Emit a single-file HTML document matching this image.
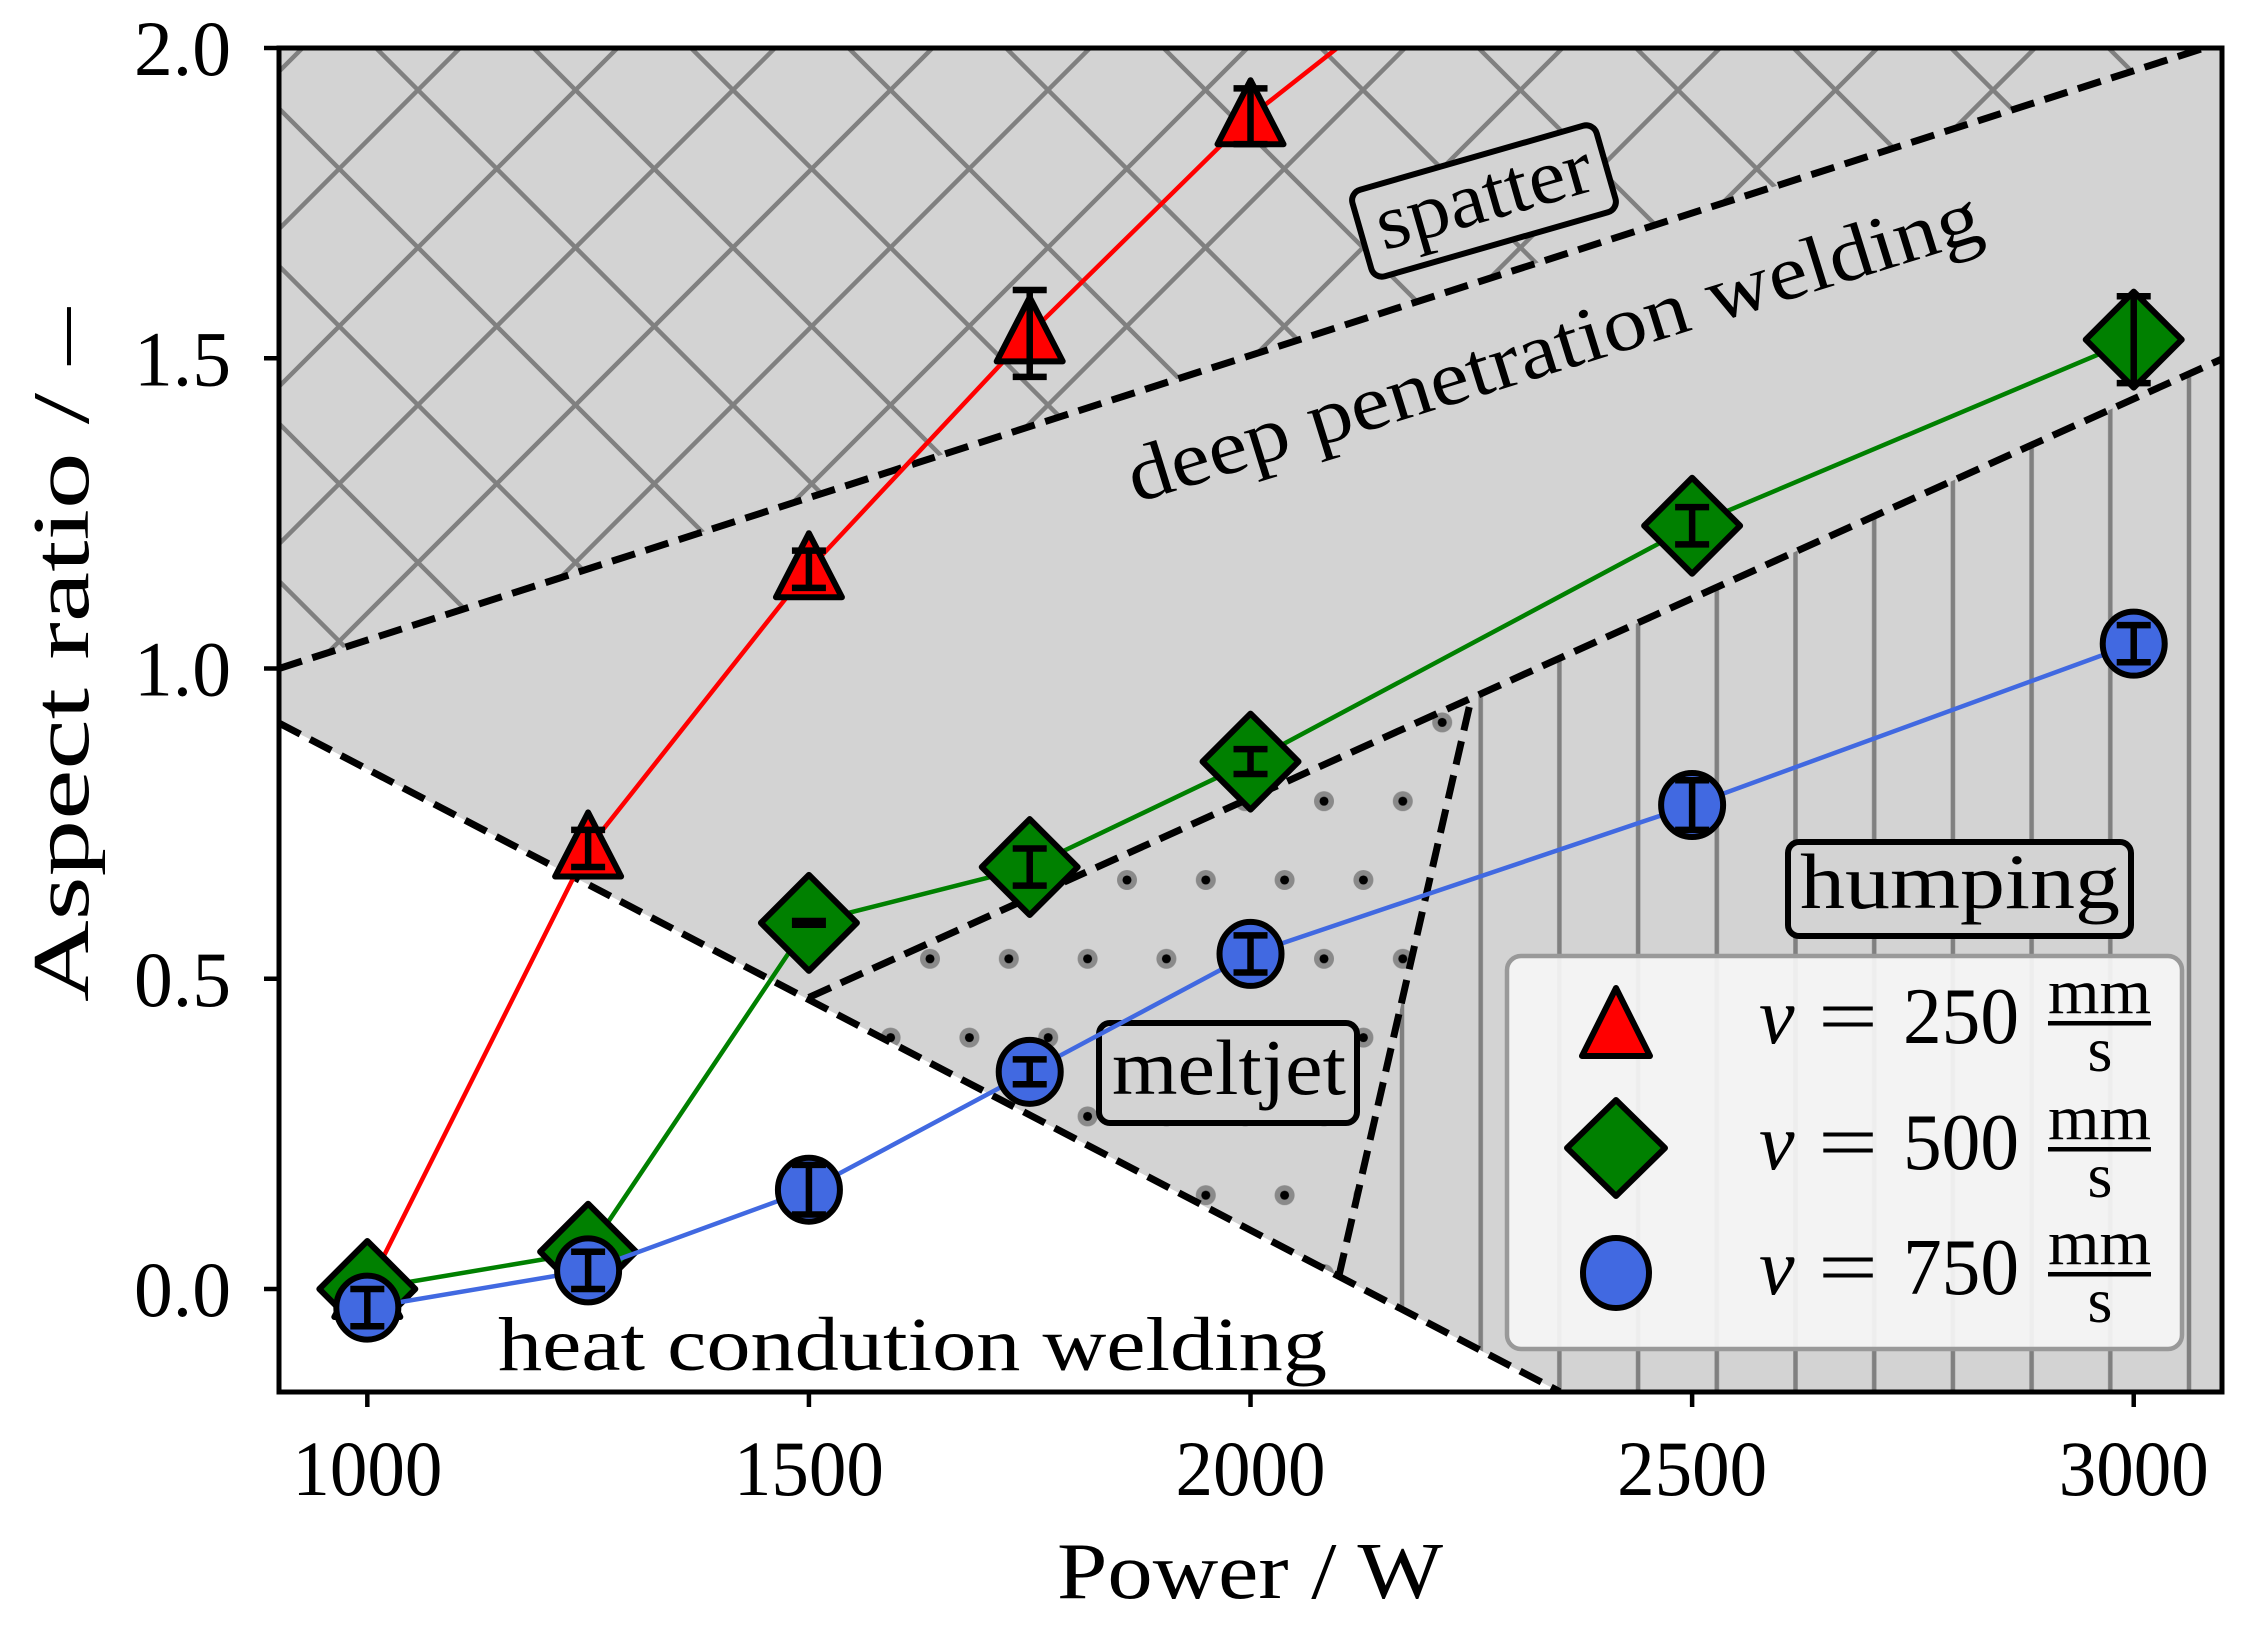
<!DOCTYPE html>
<html><head><meta charset="utf-8"><style>html,body{margin:0;padding:0;background:#fff}svg{display:block}</style></head>
<body>
<svg id="s" xmlns="http://www.w3.org/2000/svg" width="2244" height="1640" viewBox="0 0 2244 1640" font-family="Liberation Serif, serif">
<defs>
<clipPath id="pc"><rect x="279" y="48" width="1943" height="1344"/></clipPath>
<pattern id="xh" patternUnits="userSpaceOnUse" width="157.5" height="157.5" x="1993" y="90">
<rect width="157.5" height="157.5" fill="#d3d3d3"/>
<path d="M-10,-10 L167.5,167.5 M-10,167.5 L167.5,-10 M-88.75,68.75 L68.75,-88.75 M88.75,246.25 L246.25,88.75 M68.75,246.25 L-88.75,88.75 M246.25,68.75 L88.75,-88.75" stroke="#808080" stroke-width="4.5"/>
</pattern>
<pattern id="dt" patternUnits="userSpaceOnUse" width="78.8" height="157.6" x="1127" y="880">
<rect width="78.8" height="157.6" fill="#d3d3d3"/>
<circle cx="0" cy="0" r="10" fill="#8a8a8a"/><circle cx="0" cy="0" r="4.5" fill="#000"/>
<circle cx="78.8" cy="0" r="10" fill="#8a8a8a"/><circle cx="78.8" cy="0" r="4.5" fill="#000"/>
<circle cx="0" cy="157.6" r="10" fill="#8a8a8a"/><circle cx="0" cy="157.6" r="4.5" fill="#000"/>
<circle cx="78.8" cy="157.6" r="10" fill="#8a8a8a"/><circle cx="78.8" cy="157.6" r="4.5" fill="#000"/>
<circle cx="39.4" cy="78.8" r="10" fill="#8a8a8a"/><circle cx="39.4" cy="78.8" r="4.5" fill="#000"/>
</pattern>
<pattern id="vh" patternUnits="userSpaceOnUse" width="78.7" height="100" x="1402" y="0">
<rect width="78.7" height="100" fill="#d3d3d3"/>
<rect x="-2.25" width="4.5" height="100" fill="#808080"/><rect x="76.45" width="4.5" height="100" fill="#808080"/>
</pattern>
</defs>
<g id="plot" clip-path="url(#pc)"></g>
<g id="over"></g>
</svg>
<script>
const NS="http://www.w3.org/2000/svg";
const X=w=>279+(w-900)*0.8832, Y=v=>1289-v*620.5;
const plot=document.getElementById('plot'), over=document.getElementById('over');
function el(p,tag,a,txt){const e=document.createElementNS(NS,tag);for(const k in a)e.setAttribute(k,a[k]);if(txt!==undefined)e.textContent=txt;p.appendChild(e);return e;}
function pts(arr){return arr.map(p=>X(p[0]).toFixed(1)+','+Y(p[1]).toFixed(1)).join(' ');}
el(plot,'rect',{x:279,y:48,width:1943,height:1344,fill:'#d3d3d3'});
const hl=w=>0.912-(w-900)*0.000743;
el(plot,'polygon',{points:pts([[900,hl(900)],[2350,hl(2350)],[900,hl(2350)]]),fill:'#fff'});
const sl=w=>1.0+(w-900)/2180;
el(plot,'polygon',{points:pts([[900,sl(900)],[3100,sl(3100)],[3100,2.1],[900,2.1]]),fill:'url(#xh)'});
const ml=w=>0.47+(w-1500)*0.000643;
el(plot,'polygon',{points:pts([[2250,ml(2250)],[3100,ml(3100)],[3100,-0.2],[2350,hl(2350)],[2100,hl(2100)]]),fill:'url(#vh)'});
el(plot,'polygon',{points:pts([[1500,hl(1500)],[2250,ml(2250)],[2100,hl(2100)]]),fill:'url(#dt)'});
const dash={stroke:'#000','stroke-width':7,'stroke-dasharray':'24,11',fill:'none'};
el(plot,'polyline',Object.assign({points:pts([[900,sl(900)],[3100,sl(3100)]])},dash));
el(plot,'polyline',Object.assign({points:pts([[900,hl(900)],[2350,hl(2350)]])},dash));
el(plot,'polyline',Object.assign({points:pts([[1500,ml(1500)],[3100,ml(3100)]])},dash));
el(plot,'polyline',Object.assign({points:pts([[2100,hl(2100)],[2250,ml(2250)]])},dash));
function txt(p,x,y,s,size,len,rot,extra){const a=Object.assign({x:x,y:y,'font-size':size,fill:'#000'},extra||{});if(len){a.textLength=len;a.lengthAdjust='spacingAndGlyphs';}if(rot)a.transform=`rotate(${rot} ${x} ${y})`;return el(p,'text',a,s);}
txt(plot,498,1370,'heat condution welding',76,829);
txt(plot,1136,503,'deep penetration welding',78,890,-17.3);
const sp=el(plot,'g',{transform:'translate(1484,201) rotate(-16)'});
el(sp,'rect',{x:-127,y:-45,width:254,height:90,rx:11,fill:'#d3d3d3',stroke:'#000','stroke-width':6});
txt(sp,-110,20,'spatter',78,222);
el(plot,'rect',{x:1099,y:1023,width:258,height:100,rx:11,fill:'#d3d3d3',stroke:'#000','stroke-width':6});
txt(plot,1112,1094,'meltjet',78,234);
el(plot,'rect',{x:1788,y:842,width:343,height:94,rx:11,fill:'#d3d3d3',stroke:'#000','stroke-width':6});
txt(plot,1800,908,'humping',78,320);
function tri(p,cx,cy,c){el(p,'polygon',{points:`${cx},${cy-36} ${cx-33},${cy+28} ${cx+33},${cy+28}`,fill:c,stroke:'#000','stroke-width':6,'stroke-linejoin':'round'});}
function dia(p,cx,cy,c){el(p,'polygon',{points:`${cx},${cy-48} ${cx+48},${cy} ${cx},${cy+48} ${cx-48},${cy}`,fill:c,stroke:'#000','stroke-width':6,'stroke-linejoin':'round'});}
function cir(p,cx,cy,c){el(p,'ellipse',{cx:cx,cy:cy,rx:31,ry:32,fill:c,stroke:'#000','stroke-width':6});}
const S=[
 {c:'#ff0000',m:tri,d:[[1000,0,0],[1250,0.71,0.03],[1500,1.16,0.03],[1750,1.54,0.07],[2000,1.89,0.045],[2250,2.17,0]],skip:[5]},
 {c:'#008000',m:dia,d:[[1000,0,0],[1250,0.06,0.01],[1500,0.59,0.003],[1750,0.68,0.03],[2000,0.85,0.02],[2500,1.23,0.03],[3000,1.53,0.07]]},
 {c:'#4169e1',m:cir,d:[[1000,-0.03,0.03],[1250,0.03,0.03],[1500,0.16,0.04],[1750,0.35,0.02],[2000,0.54,0.03],[2500,0.78,0.04],[3000,1.04,0.03]]}
];
for(const s of S){
 el(plot,'polyline',{points:pts(s.d.map(p=>[p[0],p[1]])),fill:'none',stroke:s.c,'stroke-width':4.5});
 s.d.forEach((p,i)=>{if(s.skip&&s.skip.includes(i))return;const cx=X(p[0]),cy=Y(p[1]);s.m(plot,cx,cy,s.c);
  const e=p[2];if(e>0){const t=Y(p[1]+e),b=Y(p[1]-e);el(plot,'path',{d:`M${cx},${t} V${b} M${cx-17},${t} H${cx+17} M${cx-17},${b} H${cx+17}`,stroke:'#000','stroke-width':6.5,fill:'none'});}
  else if(i>0){el(plot,'path',{d:`M${cx-17},${cy} H${cx+17}`,stroke:'#000','stroke-width':7});}
 });
}
el(over,'rect',{x:1507,y:956,width:675,height:393,rx:14,fill:'#f5f5f5','fill-opacity':0.93,stroke:'#999','stroke-width':4.5});
const rows=[[1022,'250',tri,'#ff0000'],[1148,'500',dia,'#008000'],[1273,'750',cir,'#4169e1']];
for(const r of rows){const y=r[0];
 if(r[2]===dia){el(over,'polygon',{points:`1616,${y-48} 1665,${y} 1616,${y+48} 1567,${y}`,fill:r[3],stroke:'#000','stroke-width':6,'stroke-linejoin':'round'});}
 else if(r[2]===tri){el(over,'polygon',{points:`1616,${y-34} 1582,${y+34} 1650,${y+34}`,fill:r[3],stroke:'#000','stroke-width':6,'stroke-linejoin':'round'});}
 else el(over,'ellipse',{cx:1616,cy:y,rx:33,ry:35,fill:r[3],stroke:'#000','stroke-width':6});
 txt(over,1759,y+21,'v',80,null,0,{'font-style':'italic'});
 txt(over,1818,y+21,'=',80,60);
 txt(over,1903,y+21,r[1],80,116);
 txt(over,2048,y-9,'mm',64,103);
 el(over,'rect',{x:2048,y:y-1,width:103,height:4.5,fill:'#000'});
 txt(over,2100,y+49,'s',64,null,0,{'text-anchor':'middle'});
}
el(over,'rect',{x:279,y:48,width:1943,height:1344,fill:'none',stroke:'#000','stroke-width':5});
[1000,1500,2000,2500,3000].forEach(w=>{const x=X(w);el(over,'line',{x1:x,y1:1392,x2:x,y2:1407,stroke:'#000','stroke-width':4.5});
 txt(over,x,1495,String(w),78,150,0,{'text-anchor':'middle'});});
[[0,'0.0'],[0.5,'0.5'],[1,'1.0'],[1.5,'1.5'],[2,'2.0']].forEach(t=>{const y=Y(t[0]);el(over,'line',{x1:264,y1:y,x2:279,y2:y,stroke:'#000','stroke-width':4.5});
 txt(over,231,y+27,t[1],78,97,0,{'text-anchor':'end'});});
txt(over,1057,1598,'Power / W',80,386);
txt(over,88,1002,'Aspect ratio / –',80,694,-90);
</script>
</body></html>
